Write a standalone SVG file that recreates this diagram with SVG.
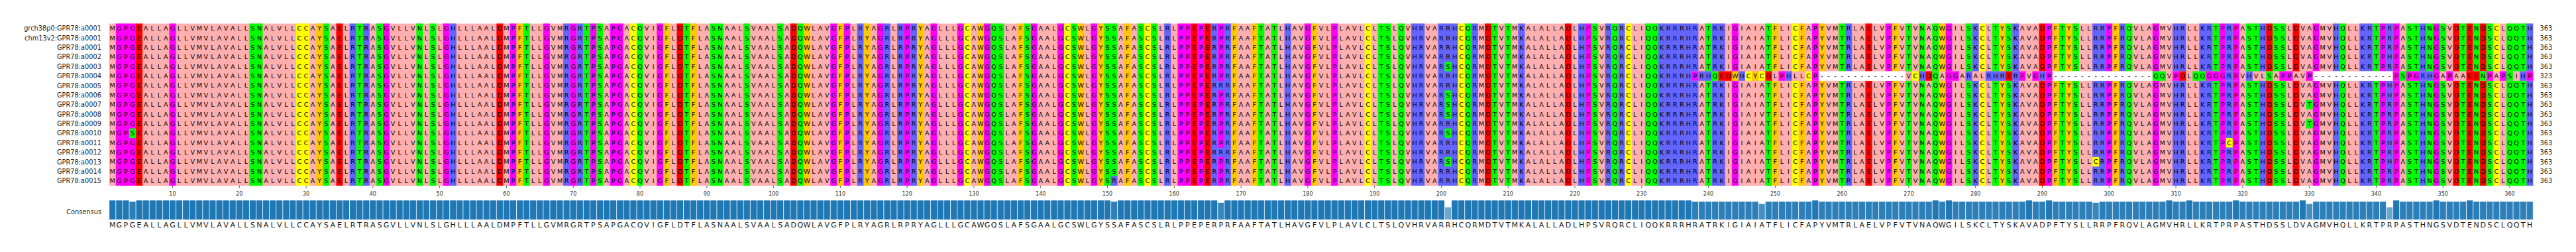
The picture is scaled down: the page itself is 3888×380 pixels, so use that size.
<svg xmlns="http://www.w3.org/2000/svg" width="3888" height="380" viewBox="0 0 3888 380">
<style>
text{font-family:"DejaVu Sans","Liberation Sans",sans-serif}
.lab{font-size:9.8px;fill:#262626;text-anchor:end}
.len{font-size:9.8px;fill:#262626}
.s{font-size:9.6px;fill:#000;text-anchor:middle}
.cs{font-size:11px;fill:#1a1a1a;text-anchor:middle}
.tk{font-size:8px;fill:#333;text-anchor:middle}
.p{fill:#ffafaf}.o{fill:#ffc800}.b{fill:#6464ff}.r{fill:#f00}.g{fill:#0f0}.m{fill:#f0f}.y{fill:#ff0}.w{fill:#fff}
.sm{stroke:#f0f}.sb{stroke:#6464ff}.sg{stroke:#0f0}.sr{stroke:#f00}.so{stroke:#ffc800}.sy{stroke:#ff0}
.col path{fill:none;stroke-width:10}
.bar{fill:#1f77b4}
</style>
<defs>
<pattern id="sep" patternUnits="userSpaceOnUse" x="4.5" y="0" width="10" height="380"><rect width="1" height="380" fill="#fff" fill-opacity="0.85"/></pattern>
</defs>
<rect width="3888" height="380" fill="#fff"/>
<g id="labels">
<text class="lab" x="153" y="46.3">grch38p0:GPR78:a0001</text>
<text class="lab" x="153" y="60.7">chm13v2:GPR78:a0001</text>
<text class="lab" x="153" y="75">GPR78:a0001</text>
<text class="lab" x="153" y="89.4">GPR78:a0002</text>
<text class="lab" x="153" y="103.8">GPR78:a0003</text>
<text class="lab" x="153" y="118.2">GPR78:a0004</text>
<text class="lab" x="153" y="132.5">GPR78:a0005</text>
<text class="lab" x="153" y="146.9">GPR78:a0006</text>
<text class="lab" x="153" y="161.3">GPR78:a0007</text>
<text class="lab" x="153" y="175.7">GPR78:a0008</text>
<text class="lab" x="153" y="190">GPR78:a0009</text>
<text class="lab" x="153" y="204.4">GPR78:a0010</text>
<text class="lab" x="153" y="218.8">GPR78:a0011</text>
<text class="lab" x="153" y="233.2">GPR78:a0012</text>
<text class="lab" x="153" y="247.5">GPR78:a0013</text>
<text class="lab" x="153" y="261.9">GPR78:a0014</text>
<text class="lab" x="153" y="276.3">GPR78:a0015</text>
<text class="lab" x="153" y="323.3">Consensus</text>
</g>
<g id="alignment" transform="matrix(1.00786 0 0 1 159.71 0)">
<g id="backgrounds" class="col">
<rect class="p" x="5" y="35.6" width="3630" height="244.4"/>
<path class="sm" d="M20 35.6V280M30 35.6V280M40 35.6V280M100 35.6V280M420 35.6V280M510 35.6V280M610 35.6V280M660 35.6V280M700 35.6V280M730 35.6V280M760 35.6V280M770 35.6V280M830 35.6V280M1090 35.6V280M1110 35.6V280M1160 35.6V280M1200 35.6V280M1240 35.6V280M1280 35.6V280M1320 35.6V280M1390 35.6V280M1430 35.6V280M1480 35.6V280M1610 35.6V280M1620 35.6V280M1640 35.6V280M1670 35.6V280M1800 35.6V280M1840 35.6V280M2220 35.6V280M2440 35.6V280M2560 35.6V280M2670 35.6V280M2760 35.6V280M2910 35.6V280M3000 35.6V280M3070 35.6V280M3170 35.6V280M3190 35.6V280M3310 35.6V280M3410 35.6V280M3430 35.6V280M3490 35.6V280"/>
<path class="sr" d="M50 35.6V280M350 35.6V280M590 35.6V280M860 35.6V280M1030 35.6V280M1630 35.6V280M1650 35.6V280M2070 35.6V280M2190 35.6V280M2640 35.6V280M2900 35.6V280M3240 35.6V280M3280 35.6V280M3520 35.6V280M3540 35.6V280M3560 35.6V280"/>
<path class="sb" d="M370 35.6V280M390 35.6V280M520 35.6V280M690 35.6V280M710 35.6V280M1130 35.6V280M1170 35.6V280M1190 35.6V280M1210 35.6V280M1590 35.6V280M1660 35.6V280M1680 35.6V280M1770 35.6V280M1960 35.6V280M1970 35.6V280M2000 35.6V280M2010 35.6V280M2020 35.6V280M2050 35.6V280M2120 35.6V280M2210 35.6V280M2250 35.6V280M2270 35.6V280M2330 35.6V280M2340 35.6V280M2350 35.6V280M2360 35.6V280M2370 35.6V280M2380 35.6V280M2410 35.6V280M2420 35.6V280M2610 35.6V280M2800 35.6V280M2860 35.6V280M2980 35.6V280M2990 35.6V280M3020 35.6V280M3100 35.6V280M3110 35.6V280M3140 35.6V280M3150 35.6V280M3180 35.6V280M3230 35.6V280M3340 35.6V280M3380 35.6V280M3390 35.6V280M3420 35.6V280M3470 35.6V280M3630 35.6V280"/>
<path class="sg" d="M220 35.6V280M230 35.6V280M330 35.6V280M380 35.6V280M410 35.6V280M470 35.6V280M490 35.6V280M630 35.6V280M720 35.6V280M740 35.6V280M800 35.6V280M870 35.6V280M910 35.6V280M920 35.6V280M960 35.6V280M1010 35.6V280M1040 35.6V280M1330 35.6V280M1340 35.6V280M1380 35.6V280M1450 35.6V280M1500 35.6V280M1510 35.6V280M1550 35.6V280M1570 35.6V280M1730 35.6V280M1750 35.6V280M1910 35.6V280M1920 35.6V280M1940 35.6V280M2040 35.6V280M2080 35.6V280M2100 35.6V280M2230 35.6V280M2260 35.6V280M2310 35.6V280M2320 35.6V280M2400 35.6V280M2490 35.6V280M2600 35.6V280M2700 35.6V280M2720 35.6V280M2740 35.6V280M2790 35.6V280M2830 35.6V280M2850 35.6V280M2930 35.6V280M2950 35.6V280M3030 35.6V280M3160 35.6V280M3210 35.6V280M3220 35.6V280M3250 35.6V280M3260 35.6V280M3350 35.6V280M3400 35.6V280M3450 35.6V280M3460 35.6V280M3480 35.6V280M3500 35.6V280M3530 35.6V280M3550 35.6V280M3570 35.6V280M3600 35.6V280M3610 35.6V280M3620 35.6V280"/>
<path class="so" d="M320 35.6V280M620 35.6V280M840 35.6V280M880 35.6V280M1050 35.6V280M1100 35.6V280M1140 35.6V280M1220 35.6V280M1310 35.6V280M1370 35.6V280M1460 35.6V280M1490 35.6V280M1530 35.6V280M1690 35.6V280M1720 35.6V280M1810 35.6V280M2500 35.6V280M2540 35.6V280M2570 35.6V280M2680 35.6V280M2750 35.6V280M2840 35.6V280M2920 35.6V280M2940 35.6V280M3010 35.6V280"/>
<path class="sy" d="M290 35.6V280M300 35.6V280M790 35.6V280M1290 35.6V280M1440 35.6V280M1560 35.6V280M1890 35.6V280M2030 35.6V280M2280 35.6V280M2530 35.6V280M2810 35.6V280M3580 35.6V280"/>
<rect class="g" x="35" y="193.7" width="10" height="14.4"/>
<rect class="g" x="2005" y="93.1" width="10" height="14.4"/>
<rect class="g" x="2005" y="136.2" width="10" height="43.2"/>
<rect class="g" x="2005" y="193.7" width="10" height="14.4"/>
<rect class="g" x="2005" y="236.85" width="10" height="14.4"/>
<rect class="g" x="3295" y="150.6" width="10" height="14.4"/>
<rect class="g" x="3295" y="179.35" width="10" height="14.4"/>
<rect class="b" x="1505" y="265.6" width="10" height="14.4"/>
<rect class="b" x="1665" y="121.85" width="10" height="14.4"/>
<rect class="b" x="1665" y="222.47" width="10" height="14.4"/>
<rect class="y" x="2975" y="236.85" width="10" height="14.4"/>
<rect class="y" x="3175" y="208.1" width="10" height="14.4"/>
<rect class="p" x="2375" y="107.45" width="1260" height="14.42"/>
<rect class="w" x="2565" y="107.45" width="130" height="14.42"/>
<rect class="w" x="2915" y="107.45" width="150" height="14.42"/>
<rect class="w" x="3305" y="107.45" width="120" height="14.42"/>
<path class="sm" d="M2380 107.45v14.42M2510 107.45v14.42M2560 107.45v14.42M2760 107.45v14.42M2770 107.45v14.42M2870 107.45v14.42M2890 107.45v14.42M2910 107.45v14.42M3100 107.45v14.42M3150 107.45v14.42M3160 107.45v14.42M3170 107.45v14.42M3190 107.45v14.42M3260 107.45v14.42M3270 107.45v14.42M3300 107.45v14.42M3430 107.45v14.42M3450 107.45v14.42M3460 107.45v14.42M3490 107.45v14.42M3510 107.45v14.42M3570 107.45v14.42M3590 107.45v14.42M3630 107.45v14.42"/>
<path class="sb" d="M2390 107.45v14.42M2400 107.45v14.42M2450 107.45v14.42M2520 107.45v14.42M2720 107.45v14.42M2790 107.45v14.42M2820 107.45v14.42M2830 107.45v14.42M2840 107.45v14.42M2860 107.45v14.42M2900 107.45v14.42M3180 107.45v14.42M3210 107.45v14.42M3470 107.45v14.42M3480 107.45v14.42M3620 107.45v14.42"/>
<path class="sg" d="M2410 107.45v14.42M2740 107.45v14.42M3070 107.45v14.42M3080 107.45v14.42M3130 107.45v14.42M3140 107.45v14.42M3240 107.45v14.42M3440 107.45v14.42M3560 107.45v14.42M3600 107.45v14.42"/>
<path class="sr" d="M2420 107.45v14.42M2430 107.45v14.42M2490 107.45v14.42M2730 107.45v14.42M2850 107.45v14.42M3110 107.45v14.42M3540 107.45v14.42M3550 107.45v14.42"/>
<path class="so" d="M2440 107.45v14.42M2470 107.45v14.42"/>
<path class="sy" d="M2460 107.45v14.42M2480 107.45v14.42M2550 107.45v14.42M2710 107.45v14.42"/>
</g>
<g id="residues">
<text class="s" y="46.3" x="10 20 30 40 50 60 70 80 90 100 110 120 130 140 150 160 170 180 190 200 210 220 230 240 250 260 270 280 290 300 310 320 330 340 350 360 370 380 390 400 410 420 430 440 450 460 470 480 490 500 510 520 530 540 550 560 570 580 590 600 610 620 630 640 650 660 670 680 690 700 710 720 730 740 750 760 770 780 790 800 810 820 830 840 850 860 870 880 890 900 910 920 930 940 950 960 970 980 990 1000 1010 1020 1030 1040 1050 1060 1070 1080 1090 1100 1110 1120 1130 1140 1150 1160 1170 1180 1190 1200 1210 1220 1230 1240 1250 1260 1270 1280 1290 1300 1310 1320 1330 1340 1350 1360 1370 1380 1390 1400 1410 1420 1430 1440 1450 1460 1470 1480 1490 1500 1510 1520 1530 1540 1550 1560 1570 1580 1590 1600 1610 1620 1630 1640 1650 1660 1670 1680 1690 1700 1710 1720 1730 1740 1750 1760 1770 1780 1790 1800 1810 1820 1830 1840 1850 1860 1870 1880 1890 1900 1910 1920 1930 1940 1950 1960 1970 1980 1990 2000 2010 2020 2030 2040 2050 2060 2070 2080 2090 2100 2110 2120 2130 2140 2150 2160 2170 2180 2190 2200 2210 2220 2230 2240 2250 2260 2270 2280 2290 2300 2310 2320 2330 2340 2350 2360 2370 2380 2390 2400 2410 2420 2430 2440 2450 2460 2470 2480 2490 2500 2510 2520 2530 2540 2550 2560 2570 2580 2590 2600 2610 2620 2630 2640 2650 2660 2670 2680 2690 2700 2710 2720 2730 2740 2750 2760 2770 2780 2790 2800 2810 2820 2830 2840 2850 2860 2870 2880 2890 2900 2910 2920 2930 2940 2950 2960 2970 2980 2990 3000 3010 3020 3030 3040 3050 3060 3070 3080 3090 3100 3110 3120 3130 3140 3150 3160 3170 3180 3190 3200 3210 3220 3230 3240 3250 3260 3270 3280 3290 3300 3310 3320 3330 3340 3350 3360 3370 3380 3390 3400 3410 3420 3430 3440 3450 3460 3470 3480 3490 3500 3510 3520 3530 3540 3550 3560 3570 3580 3590 3600 3610 3620 3630">MGPGEALLAGLLVMVLAVALLSNALVLLCCAYSAELRTRASGVLLVNLSLGHLLLAALDMPFTLLGVMRGRTPSAPGACQVIGFLDTFLASNAALSVAALSADQWLAVGFPLRYAGRLRPRYAGLLLGCAWGQSLAFSGAALGCSWLGYSSAFASCSLRLPPEPERPRFAAFTATLHAVGFVLPLAVLCLTSLQVHRVARRHCQRMDTVTMKALALLADLHPSVRQRCLIQQKRRRHRATRKIGIAIATFLICFAPYVMTRLAELVPFVTVNAQWGILSKCLTYSKAVADPFTYSLLRRPFRQVLAGMVHRLLKRTPRPASTHDSSLDVAGMVHQLLKRTPRPASTHNGSVDTENDSCLQQTH</text>
<text class="s" y="60.7" x="10 20 30 40 50 60 70 80 90 100 110 120 130 140 150 160 170 180 190 200 210 220 230 240 250 260 270 280 290 300 310 320 330 340 350 360 370 380 390 400 410 420 430 440 450 460 470 480 490 500 510 520 530 540 550 560 570 580 590 600 610 620 630 640 650 660 670 680 690 700 710 720 730 740 750 760 770 780 790 800 810 820 830 840 850 860 870 880 890 900 910 920 930 940 950 960 970 980 990 1000 1010 1020 1030 1040 1050 1060 1070 1080 1090 1100 1110 1120 1130 1140 1150 1160 1170 1180 1190 1200 1210 1220 1230 1240 1250 1260 1270 1280 1290 1300 1310 1320 1330 1340 1350 1360 1370 1380 1390 1400 1410 1420 1430 1440 1450 1460 1470 1480 1490 1500 1510 1520 1530 1540 1550 1560 1570 1580 1590 1600 1610 1620 1630 1640 1650 1660 1670 1680 1690 1700 1710 1720 1730 1740 1750 1760 1770 1780 1790 1800 1810 1820 1830 1840 1850 1860 1870 1880 1890 1900 1910 1920 1930 1940 1950 1960 1970 1980 1990 2000 2010 2020 2030 2040 2050 2060 2070 2080 2090 2100 2110 2120 2130 2140 2150 2160 2170 2180 2190 2200 2210 2220 2230 2240 2250 2260 2270 2280 2290 2300 2310 2320 2330 2340 2350 2360 2370 2380 2390 2400 2410 2420 2430 2440 2450 2460 2470 2480 2490 2500 2510 2520 2530 2540 2550 2560 2570 2580 2590 2600 2610 2620 2630 2640 2650 2660 2670 2680 2690 2700 2710 2720 2730 2740 2750 2760 2770 2780 2790 2800 2810 2820 2830 2840 2850 2860 2870 2880 2890 2900 2910 2920 2930 2940 2950 2960 2970 2980 2990 3000 3010 3020 3030 3040 3050 3060 3070 3080 3090 3100 3110 3120 3130 3140 3150 3160 3170 3180 3190 3200 3210 3220 3230 3240 3250 3260 3270 3280 3290 3300 3310 3320 3330 3340 3350 3360 3370 3380 3390 3400 3410 3420 3430 3440 3450 3460 3470 3480 3490 3500 3510 3520 3530 3540 3550 3560 3570 3580 3590 3600 3610 3620 3630">MGPGEALLAGLLVMVLAVALLSNALVLLCCAYSAELRTRASGVLLVNLSLGHLLLAALDMPFTLLGVMRGRTPSAPGACQVIGFLDTFLASNAALSVAALSADQWLAVGFPLRYAGRLRPRYAGLLLGCAWGQSLAFSGAALGCSWLGYSSAFASCSLRLPPEPERPRFAAFTATLHAVGFVLPLAVLCLTSLQVHRVARRHCQRMDTVTMKALALLADLHPSVRQRCLIQQKRRRHRATRKIGIAIATFLICFAPYVMTRLAELVPFVTVNAQWGILSKCLTYSKAVADPFTYSLLRRPFRQVLAGMVHRLLKRTPRPASTHDSSLDVAGMVHQLLKRTPRPASTHNGSVDTENDSCLQQTH</text>
<text class="s" y="75" x="10 20 30 40 50 60 70 80 90 100 110 120 130 140 150 160 170 180 190 200 210 220 230 240 250 260 270 280 290 300 310 320 330 340 350 360 370 380 390 400 410 420 430 440 450 460 470 480 490 500 510 520 530 540 550 560 570 580 590 600 610 620 630 640 650 660 670 680 690 700 710 720 730 740 750 760 770 780 790 800 810 820 830 840 850 860 870 880 890 900 910 920 930 940 950 960 970 980 990 1000 1010 1020 1030 1040 1050 1060 1070 1080 1090 1100 1110 1120 1130 1140 1150 1160 1170 1180 1190 1200 1210 1220 1230 1240 1250 1260 1270 1280 1290 1300 1310 1320 1330 1340 1350 1360 1370 1380 1390 1400 1410 1420 1430 1440 1450 1460 1470 1480 1490 1500 1510 1520 1530 1540 1550 1560 1570 1580 1590 1600 1610 1620 1630 1640 1650 1660 1670 1680 1690 1700 1710 1720 1730 1740 1750 1760 1770 1780 1790 1800 1810 1820 1830 1840 1850 1860 1870 1880 1890 1900 1910 1920 1930 1940 1950 1960 1970 1980 1990 2000 2010 2020 2030 2040 2050 2060 2070 2080 2090 2100 2110 2120 2130 2140 2150 2160 2170 2180 2190 2200 2210 2220 2230 2240 2250 2260 2270 2280 2290 2300 2310 2320 2330 2340 2350 2360 2370 2380 2390 2400 2410 2420 2430 2440 2450 2460 2470 2480 2490 2500 2510 2520 2530 2540 2550 2560 2570 2580 2590 2600 2610 2620 2630 2640 2650 2660 2670 2680 2690 2700 2710 2720 2730 2740 2750 2760 2770 2780 2790 2800 2810 2820 2830 2840 2850 2860 2870 2880 2890 2900 2910 2920 2930 2940 2950 2960 2970 2980 2990 3000 3010 3020 3030 3040 3050 3060 3070 3080 3090 3100 3110 3120 3130 3140 3150 3160 3170 3180 3190 3200 3210 3220 3230 3240 3250 3260 3270 3280 3290 3300 3310 3320 3330 3340 3350 3360 3370 3380 3390 3400 3410 3420 3430 3440 3450 3460 3470 3480 3490 3500 3510 3520 3530 3540 3550 3560 3570 3580 3590 3600 3610 3620 3630">MGPGEALLAGLLVMVLAVALLSNALVLLCCAYSAELRTRASGVLLVNLSLGHLLLAALDMPFTLLGVMRGRTPSAPGACQVIGFLDTFLASNAALSVAALSADQWLAVGFPLRYAGRLRPRYAGLLLGCAWGQSLAFSGAALGCSWLGYSSAFASCSLRLPPEPERPRFAAFTATLHAVGFVLPLAVLCLTSLQVHRVARRHCQRMDTVTMKALALLADLHPSVRQRCLIQQKRRRHRATRKIGIAIATFLICFAPYVMTRLAELVPFVTVNAQWGILSKCLTYSKAVADPFTYSLLRRPFRQVLAGMVHRLLKRTPRPASTHDSSLDVAGMVHQLLKRTPRPASTHNGSVDTENDSCLQQTH</text>
<text class="s" y="89.4" x="10 20 30 40 50 60 70 80 90 100 110 120 130 140 150 160 170 180 190 200 210 220 230 240 250 260 270 280 290 300 310 320 330 340 350 360 370 380 390 400 410 420 430 440 450 460 470 480 490 500 510 520 530 540 550 560 570 580 590 600 610 620 630 640 650 660 670 680 690 700 710 720 730 740 750 760 770 780 790 800 810 820 830 840 850 860 870 880 890 900 910 920 930 940 950 960 970 980 990 1000 1010 1020 1030 1040 1050 1060 1070 1080 1090 1100 1110 1120 1130 1140 1150 1160 1170 1180 1190 1200 1210 1220 1230 1240 1250 1260 1270 1280 1290 1300 1310 1320 1330 1340 1350 1360 1370 1380 1390 1400 1410 1420 1430 1440 1450 1460 1470 1480 1490 1500 1510 1520 1530 1540 1550 1560 1570 1580 1590 1600 1610 1620 1630 1640 1650 1660 1670 1680 1690 1700 1710 1720 1730 1740 1750 1760 1770 1780 1790 1800 1810 1820 1830 1840 1850 1860 1870 1880 1890 1900 1910 1920 1930 1940 1950 1960 1970 1980 1990 2000 2010 2020 2030 2040 2050 2060 2070 2080 2090 2100 2110 2120 2130 2140 2150 2160 2170 2180 2190 2200 2210 2220 2230 2240 2250 2260 2270 2280 2290 2300 2310 2320 2330 2340 2350 2360 2370 2380 2390 2400 2410 2420 2430 2440 2450 2460 2470 2480 2490 2500 2510 2520 2530 2540 2550 2560 2570 2580 2590 2600 2610 2620 2630 2640 2650 2660 2670 2680 2690 2700 2710 2720 2730 2740 2750 2760 2770 2780 2790 2800 2810 2820 2830 2840 2850 2860 2870 2880 2890 2900 2910 2920 2930 2940 2950 2960 2970 2980 2990 3000 3010 3020 3030 3040 3050 3060 3070 3080 3090 3100 3110 3120 3130 3140 3150 3160 3170 3180 3190 3200 3210 3220 3230 3240 3250 3260 3270 3280 3290 3300 3310 3320 3330 3340 3350 3360 3370 3380 3390 3400 3410 3420 3430 3440 3450 3460 3470 3480 3490 3500 3510 3520 3530 3540 3550 3560 3570 3580 3590 3600 3610 3620 3630">MGPGEALLAGLLVMVLAVALLSNALVLLCCAYSAELRTRASGVLLVNLSLGHLLLAALDMPFTLLGVMRGRTPSAPGACQVIGFLDTFLASNAALSVAALSADQWLAVGFPLRYAGRLRPRYAGLLLGCAWGQSLAFSGAALGCSWLGYSSAFASCSLRLPPEPERPRFAAFTATLHAVGFVLPLAVLCLTSLQVHRVARRHCQRMDTVTMKALALLADLHPSVRQRCLIQQKRRRHRATRKIGIAIATFLICFAPYVMTRLAELVPFVTVNAQWGILSKCLTYSKAVADPFTYSLLRRPFRQVLAGMVHRLLKRTPRPASTHDSSLDVAGMVHQLLKRTPHPASTHNGSVDTENDSCLQQTH</text>
<text class="s" y="103.8" x="10 20 30 40 50 60 70 80 90 100 110 120 130 140 150 160 170 180 190 200 210 220 230 240 250 260 270 280 290 300 310 320 330 340 350 360 370 380 390 400 410 420 430 440 450 460 470 480 490 500 510 520 530 540 550 560 570 580 590 600 610 620 630 640 650 660 670 680 690 700 710 720 730 740 750 760 770 780 790 800 810 820 830 840 850 860 870 880 890 900 910 920 930 940 950 960 970 980 990 1000 1010 1020 1030 1040 1050 1060 1070 1080 1090 1100 1110 1120 1130 1140 1150 1160 1170 1180 1190 1200 1210 1220 1230 1240 1250 1260 1270 1280 1290 1300 1310 1320 1330 1340 1350 1360 1370 1380 1390 1400 1410 1420 1430 1440 1450 1460 1470 1480 1490 1500 1510 1520 1530 1540 1550 1560 1570 1580 1590 1600 1610 1620 1630 1640 1650 1660 1670 1680 1690 1700 1710 1720 1730 1740 1750 1760 1770 1780 1790 1800 1810 1820 1830 1840 1850 1860 1870 1880 1890 1900 1910 1920 1930 1940 1950 1960 1970 1980 1990 2000 2010 2020 2030 2040 2050 2060 2070 2080 2090 2100 2110 2120 2130 2140 2150 2160 2170 2180 2190 2200 2210 2220 2230 2240 2250 2260 2270 2280 2290 2300 2310 2320 2330 2340 2350 2360 2370 2380 2390 2400 2410 2420 2430 2440 2450 2460 2470 2480 2490 2500 2510 2520 2530 2540 2550 2560 2570 2580 2590 2600 2610 2620 2630 2640 2650 2660 2670 2680 2690 2700 2710 2720 2730 2740 2750 2760 2770 2780 2790 2800 2810 2820 2830 2840 2850 2860 2870 2880 2890 2900 2910 2920 2930 2940 2950 2960 2970 2980 2990 3000 3010 3020 3030 3040 3050 3060 3070 3080 3090 3100 3110 3120 3130 3140 3150 3160 3170 3180 3190 3200 3210 3220 3230 3240 3250 3260 3270 3280 3290 3300 3310 3320 3330 3340 3350 3360 3370 3380 3390 3400 3410 3420 3430 3440 3450 3460 3470 3480 3490 3500 3510 3520 3530 3540 3550 3560 3570 3580 3590 3600 3610 3620 3630">MGPGEALLAGLLVMVLAVALLSNALVLLCCAYSAELRTRASGVLLVNLSLGHLLLAALDMPFTLLGVMRGRTPSAPGACQVIGFLDTFLASNAALSVAALSADQWLAVGFPLRYAGRLRPRYAGLLLGCAWGQSLAFSGAALGCSWLGYSSAFASCSLRLPPEPERPRFAAFTATLHAVGFVLPLAVLCLTSLQVHRVARSHCQRMDTVTMKALALLADLHPSVRQRCLIQQKRRRHRATRKIGIAIATFLICFAPYVMTRLAELVPFVTVNAQWGILSKCLTYSKAVADPFTYSLLRRPFRQVLAGMVHRLLKRTPRPASTHDSSLDVAGMVHQLLKRTPRPASTHNGSVDTENDSCLQQTH</text>
<text class="s" y="118.2" x="10 20 30 40 50 60 70 80 90 100 110 120 130 140 150 160 170 180 190 200 210 220 230 240 250 260 270 280 290 300 310 320 330 340 350 360 370 380 390 400 410 420 430 440 450 460 470 480 490 500 510 520 530 540 550 560 570 580 590 600 610 620 630 640 650 660 670 680 690 700 710 720 730 740 750 760 770 780 790 800 810 820 830 840 850 860 870 880 890 900 910 920 930 940 950 960 970 980 990 1000 1010 1020 1030 1040 1050 1060 1070 1080 1090 1100 1110 1120 1130 1140 1150 1160 1170 1180 1190 1200 1210 1220 1230 1240 1250 1260 1270 1280 1290 1300 1310 1320 1330 1340 1350 1360 1370 1380 1390 1400 1410 1420 1430 1440 1450 1460 1470 1480 1490 1500 1510 1520 1530 1540 1550 1560 1570 1580 1590 1600 1610 1620 1630 1640 1650 1660 1670 1680 1690 1700 1710 1720 1730 1740 1750 1760 1770 1780 1790 1800 1810 1820 1830 1840 1850 1860 1870 1880 1890 1900 1910 1920 1930 1940 1950 1960 1970 1980 1990 2000 2010 2020 2030 2040 2050 2060 2070 2080 2090 2100 2110 2120 2130 2140 2150 2160 2170 2180 2190 2200 2210 2220 2230 2240 2250 2260 2270 2280 2290 2300 2310 2320 2330 2340 2350 2360 2370 2380 2390 2400 2410 2420 2430 2440 2450 2460 2470 2480 2490 2500 2510 2520 2530 2540 2550 2560 2570 2580 2590 2600 2610 2620 2630 2640 2650 2660 2670 2680 2690 2700 2710 2720 2730 2740 2750 2760 2770 2780 2790 2800 2810 2820 2830 2840 2850 2860 2870 2880 2890 2900 2910 2920 2930 2940 2950 2960 2970 2980 2990 3000 3010 3020 3030 3040 3050 3060 3070 3080 3090 3100 3110 3120 3130 3140 3150 3160 3170 3180 3190 3200 3210 3220 3230 3240 3250 3260 3270 3280 3290 3300 3310 3320 3330 3340 3350 3360 3370 3380 3390 3400 3410 3420 3430 3440 3450 3460 3470 3480 3490 3500 3510 3520 3530 3540 3550 3560 3570 3580 3590 3600 3610 3620 3630">MGPGEALLAGLLVMVLAVALLSNALVLLCCAYSAELRTRASGVLLVNLSLGHLLLAALDMPFTLLGVMRGRTPSAPGACQVIGFLDTFLASNAALSVAALSADQWLAVGFPLRYAGRLRPRYAGLLLGCAWGQSLAFSGAALGCSWLGYSSAFASCSLRLPPEPERPRFAAFTATLHAVGFVLPLAVLCLTSLQVHRVARRHCQRMDTVTMKALALLADLHPSVRQRCLIQQKRRRHPRHQEDWHCYCDLPHLLCP-------------VCHDQAGGARALRHRERPVGHP---------------QQVPDLQQGGGRPVHVLSAPPAVP------------PSPGRHGAPAAEENPAPSIHP</text>
<text class="s" y="132.5" x="10 20 30 40 50 60 70 80 90 100 110 120 130 140 150 160 170 180 190 200 210 220 230 240 250 260 270 280 290 300 310 320 330 340 350 360 370 380 390 400 410 420 430 440 450 460 470 480 490 500 510 520 530 540 550 560 570 580 590 600 610 620 630 640 650 660 670 680 690 700 710 720 730 740 750 760 770 780 790 800 810 820 830 840 850 860 870 880 890 900 910 920 930 940 950 960 970 980 990 1000 1010 1020 1030 1040 1050 1060 1070 1080 1090 1100 1110 1120 1130 1140 1150 1160 1170 1180 1190 1200 1210 1220 1230 1240 1250 1260 1270 1280 1290 1300 1310 1320 1330 1340 1350 1360 1370 1380 1390 1400 1410 1420 1430 1440 1450 1460 1470 1480 1490 1500 1510 1520 1530 1540 1550 1560 1570 1580 1590 1600 1610 1620 1630 1640 1650 1660 1670 1680 1690 1700 1710 1720 1730 1740 1750 1760 1770 1780 1790 1800 1810 1820 1830 1840 1850 1860 1870 1880 1890 1900 1910 1920 1930 1940 1950 1960 1970 1980 1990 2000 2010 2020 2030 2040 2050 2060 2070 2080 2090 2100 2110 2120 2130 2140 2150 2160 2170 2180 2190 2200 2210 2220 2230 2240 2250 2260 2270 2280 2290 2300 2310 2320 2330 2340 2350 2360 2370 2380 2390 2400 2410 2420 2430 2440 2450 2460 2470 2480 2490 2500 2510 2520 2530 2540 2550 2560 2570 2580 2590 2600 2610 2620 2630 2640 2650 2660 2670 2680 2690 2700 2710 2720 2730 2740 2750 2760 2770 2780 2790 2800 2810 2820 2830 2840 2850 2860 2870 2880 2890 2900 2910 2920 2930 2940 2950 2960 2970 2980 2990 3000 3010 3020 3030 3040 3050 3060 3070 3080 3090 3100 3110 3120 3130 3140 3150 3160 3170 3180 3190 3200 3210 3220 3230 3240 3250 3260 3270 3280 3290 3300 3310 3320 3330 3340 3350 3360 3370 3380 3390 3400 3410 3420 3430 3440 3450 3460 3470 3480 3490 3500 3510 3520 3530 3540 3550 3560 3570 3580 3590 3600 3610 3620 3630">MGPGEALLAGLLVMVLAVALLSNALVLLCCAYSAELRTRASGVLLVNLSLGHLLLAALDMPFTLLGVMRGRTPSAPGACQVIGFLDTFLASNAALSVAALSADQWLAVGFPLRYAGRLRPRYAGLLLGCAWGQSLAFSGAALGCSWLGYSSAFASCSLRLPPEPERRRFAAFTATLHAVGFVLPLAVLCLTSLQVHRVARRHCQRMDTVTMKALALLADLHPSVRQRCLIQQKRRRHRATRKIGIAIATFLICFAPYVMTRLAELVPFVTVNAQWGILSKCLTYSKAVADPFTYSLLRRPFRQVLAGMVHRLLKRTPRPASTHDSSLDVAGMVHQLLKRTPHPASTHNGSVDTENDSCLQQTH</text>
<text class="s" y="146.9" x="10 20 30 40 50 60 70 80 90 100 110 120 130 140 150 160 170 180 190 200 210 220 230 240 250 260 270 280 290 300 310 320 330 340 350 360 370 380 390 400 410 420 430 440 450 460 470 480 490 500 510 520 530 540 550 560 570 580 590 600 610 620 630 640 650 660 670 680 690 700 710 720 730 740 750 760 770 780 790 800 810 820 830 840 850 860 870 880 890 900 910 920 930 940 950 960 970 980 990 1000 1010 1020 1030 1040 1050 1060 1070 1080 1090 1100 1110 1120 1130 1140 1150 1160 1170 1180 1190 1200 1210 1220 1230 1240 1250 1260 1270 1280 1290 1300 1310 1320 1330 1340 1350 1360 1370 1380 1390 1400 1410 1420 1430 1440 1450 1460 1470 1480 1490 1500 1510 1520 1530 1540 1550 1560 1570 1580 1590 1600 1610 1620 1630 1640 1650 1660 1670 1680 1690 1700 1710 1720 1730 1740 1750 1760 1770 1780 1790 1800 1810 1820 1830 1840 1850 1860 1870 1880 1890 1900 1910 1920 1930 1940 1950 1960 1970 1980 1990 2000 2010 2020 2030 2040 2050 2060 2070 2080 2090 2100 2110 2120 2130 2140 2150 2160 2170 2180 2190 2200 2210 2220 2230 2240 2250 2260 2270 2280 2290 2300 2310 2320 2330 2340 2350 2360 2370 2380 2390 2400 2410 2420 2430 2440 2450 2460 2470 2480 2490 2500 2510 2520 2530 2540 2550 2560 2570 2580 2590 2600 2610 2620 2630 2640 2650 2660 2670 2680 2690 2700 2710 2720 2730 2740 2750 2760 2770 2780 2790 2800 2810 2820 2830 2840 2850 2860 2870 2880 2890 2900 2910 2920 2930 2940 2950 2960 2970 2980 2990 3000 3010 3020 3030 3040 3050 3060 3070 3080 3090 3100 3110 3120 3130 3140 3150 3160 3170 3180 3190 3200 3210 3220 3230 3240 3250 3260 3270 3280 3290 3300 3310 3320 3330 3340 3350 3360 3370 3380 3390 3400 3410 3420 3430 3440 3450 3460 3470 3480 3490 3500 3510 3520 3530 3540 3550 3560 3570 3580 3590 3600 3610 3620 3630">MGPGEALLAGLLVMVLAVALLSNALVLLCCAYSAELRTRASGVLLVNLSLGHLLLAALDMPFTLLGVMRGRTPSAPGACQVIGFLDTFLASNAALSVAALSADQWLAVGFPLRYAGRLRPRYAGLLLGCAWGQSLAFSGAALGCSWLGYSSAFASCSLRLPPEPERPRFAAFTATLHAVGFVLPLAVLCLTSLQVHRVARSHCQRMDTVTMKALALLADLHPSVRQRCLIQQKRRRHRATRKIGIAIATFLICFAPYVMTRLAELVPFVTVNAQWGILSKCLTYSKAVADPFTYSLLRRPFRQVLAGMVHRLLKRTPRPASTHDSSLDVAGMVHQLLKRTPHPASTHNGSVDTENDSCLQQTH</text>
<text class="s" y="161.3" x="10 20 30 40 50 60 70 80 90 100 110 120 130 140 150 160 170 180 190 200 210 220 230 240 250 260 270 280 290 300 310 320 330 340 350 360 370 380 390 400 410 420 430 440 450 460 470 480 490 500 510 520 530 540 550 560 570 580 590 600 610 620 630 640 650 660 670 680 690 700 710 720 730 740 750 760 770 780 790 800 810 820 830 840 850 860 870 880 890 900 910 920 930 940 950 960 970 980 990 1000 1010 1020 1030 1040 1050 1060 1070 1080 1090 1100 1110 1120 1130 1140 1150 1160 1170 1180 1190 1200 1210 1220 1230 1240 1250 1260 1270 1280 1290 1300 1310 1320 1330 1340 1350 1360 1370 1380 1390 1400 1410 1420 1430 1440 1450 1460 1470 1480 1490 1500 1510 1520 1530 1540 1550 1560 1570 1580 1590 1600 1610 1620 1630 1640 1650 1660 1670 1680 1690 1700 1710 1720 1730 1740 1750 1760 1770 1780 1790 1800 1810 1820 1830 1840 1850 1860 1870 1880 1890 1900 1910 1920 1930 1940 1950 1960 1970 1980 1990 2000 2010 2020 2030 2040 2050 2060 2070 2080 2090 2100 2110 2120 2130 2140 2150 2160 2170 2180 2190 2200 2210 2220 2230 2240 2250 2260 2270 2280 2290 2300 2310 2320 2330 2340 2350 2360 2370 2380 2390 2400 2410 2420 2430 2440 2450 2460 2470 2480 2490 2500 2510 2520 2530 2540 2550 2560 2570 2580 2590 2600 2610 2620 2630 2640 2650 2660 2670 2680 2690 2700 2710 2720 2730 2740 2750 2760 2770 2780 2790 2800 2810 2820 2830 2840 2850 2860 2870 2880 2890 2900 2910 2920 2930 2940 2950 2960 2970 2980 2990 3000 3010 3020 3030 3040 3050 3060 3070 3080 3090 3100 3110 3120 3130 3140 3150 3160 3170 3180 3190 3200 3210 3220 3230 3240 3250 3260 3270 3280 3290 3300 3310 3320 3330 3340 3350 3360 3370 3380 3390 3400 3410 3420 3430 3440 3450 3460 3470 3480 3490 3500 3510 3520 3530 3540 3550 3560 3570 3580 3590 3600 3610 3620 3630">MGPGEALLAGLLVMVLAVALLSNALVLLCCAYSAELRTRASGVLLVNLSLGHLLLAALDMPFTLLGVMRGRTPSAPGACQVIGFLDTFLASNAALSVAALSADQWLAVGFPLRYAGRLRPRYAGLLLGCAWGQSLAFSGAALGCSWLGYSSAFASCSLRLPPEPERPRFAAFTATLHAVGFVLPLAVLCLTSLQVHRVARSHCQRMDTVTMKALALLADLHPSVRQRCLIQQKRRRHRATRKIGIAIATFLICFAPYVMTRLAELVPFVTVNAQWGILSKCLTYSKAVADPFTYSLLRRPFRQVLAGMVHRLLKRTPRPASTHDSSLDVTGMVHQLLKRTPRPASTHNGSVDTENDSCLQQTH</text>
<text class="s" y="175.7" x="10 20 30 40 50 60 70 80 90 100 110 120 130 140 150 160 170 180 190 200 210 220 230 240 250 260 270 280 290 300 310 320 330 340 350 360 370 380 390 400 410 420 430 440 450 460 470 480 490 500 510 520 530 540 550 560 570 580 590 600 610 620 630 640 650 660 670 680 690 700 710 720 730 740 750 760 770 780 790 800 810 820 830 840 850 860 870 880 890 900 910 920 930 940 950 960 970 980 990 1000 1010 1020 1030 1040 1050 1060 1070 1080 1090 1100 1110 1120 1130 1140 1150 1160 1170 1180 1190 1200 1210 1220 1230 1240 1250 1260 1270 1280 1290 1300 1310 1320 1330 1340 1350 1360 1370 1380 1390 1400 1410 1420 1430 1440 1450 1460 1470 1480 1490 1500 1510 1520 1530 1540 1550 1560 1570 1580 1590 1600 1610 1620 1630 1640 1650 1660 1670 1680 1690 1700 1710 1720 1730 1740 1750 1760 1770 1780 1790 1800 1810 1820 1830 1840 1850 1860 1870 1880 1890 1900 1910 1920 1930 1940 1950 1960 1970 1980 1990 2000 2010 2020 2030 2040 2050 2060 2070 2080 2090 2100 2110 2120 2130 2140 2150 2160 2170 2180 2190 2200 2210 2220 2230 2240 2250 2260 2270 2280 2290 2300 2310 2320 2330 2340 2350 2360 2370 2380 2390 2400 2410 2420 2430 2440 2450 2460 2470 2480 2490 2500 2510 2520 2530 2540 2550 2560 2570 2580 2590 2600 2610 2620 2630 2640 2650 2660 2670 2680 2690 2700 2710 2720 2730 2740 2750 2760 2770 2780 2790 2800 2810 2820 2830 2840 2850 2860 2870 2880 2890 2900 2910 2920 2930 2940 2950 2960 2970 2980 2990 3000 3010 3020 3030 3040 3050 3060 3070 3080 3090 3100 3110 3120 3130 3140 3150 3160 3170 3180 3190 3200 3210 3220 3230 3240 3250 3260 3270 3280 3290 3300 3310 3320 3330 3340 3350 3360 3370 3380 3390 3400 3410 3420 3430 3440 3450 3460 3470 3480 3490 3500 3510 3520 3530 3540 3550 3560 3570 3580 3590 3600 3610 3620 3630">MGPGEALLAGLLVMVLAVALLSNALVLLCCAYSAELRTRASGVLLVNLSLGHLLLAALDMPFTLLGVMRGRTPSAPGACQVIGFLDTFLASNAALSVAALSADQWLAVGFPLRYAGRLRPRYAGLLLGCAWGQSLAFSGAALGCSWLGYSSAFASCSLRLPPEPERPRFAAFTATLHAVGFVLPLAVLCLTSLQVHRVARSHCQRMDTVTMKALALLADLHPSVRQRCLIQQKRRRHRATRKIGIAIVTFLICFAPYVMTRLAELVPFVTVNAQWGILSKCLTYSKAVADPFTYSLLRRPFRQVLAGMVHRLLKRTPRPASTHDSSLDVAGMVHQLLKRTPRPASTHNGSVDTENDSCLQQTH</text>
<text class="s" y="190" x="10 20 30 40 50 60 70 80 90 100 110 120 130 140 150 160 170 180 190 200 210 220 230 240 250 260 270 280 290 300 310 320 330 340 350 360 370 380 390 400 410 420 430 440 450 460 470 480 490 500 510 520 530 540 550 560 570 580 590 600 610 620 630 640 650 660 670 680 690 700 710 720 730 740 750 760 770 780 790 800 810 820 830 840 850 860 870 880 890 900 910 920 930 940 950 960 970 980 990 1000 1010 1020 1030 1040 1050 1060 1070 1080 1090 1100 1110 1120 1130 1140 1150 1160 1170 1180 1190 1200 1210 1220 1230 1240 1250 1260 1270 1280 1290 1300 1310 1320 1330 1340 1350 1360 1370 1380 1390 1400 1410 1420 1430 1440 1450 1460 1470 1480 1490 1500 1510 1520 1530 1540 1550 1560 1570 1580 1590 1600 1610 1620 1630 1640 1650 1660 1670 1680 1690 1700 1710 1720 1730 1740 1750 1760 1770 1780 1790 1800 1810 1820 1830 1840 1850 1860 1870 1880 1890 1900 1910 1920 1930 1940 1950 1960 1970 1980 1990 2000 2010 2020 2030 2040 2050 2060 2070 2080 2090 2100 2110 2120 2130 2140 2150 2160 2170 2180 2190 2200 2210 2220 2230 2240 2250 2260 2270 2280 2290 2300 2310 2320 2330 2340 2350 2360 2370 2380 2390 2400 2410 2420 2430 2440 2450 2460 2470 2480 2490 2500 2510 2520 2530 2540 2550 2560 2570 2580 2590 2600 2610 2620 2630 2640 2650 2660 2670 2680 2690 2700 2710 2720 2730 2740 2750 2760 2770 2780 2790 2800 2810 2820 2830 2840 2850 2860 2870 2880 2890 2900 2910 2920 2930 2940 2950 2960 2970 2980 2990 3000 3010 3020 3030 3040 3050 3060 3070 3080 3090 3100 3110 3120 3130 3140 3150 3160 3170 3180 3190 3200 3210 3220 3230 3240 3250 3260 3270 3280 3290 3300 3310 3320 3330 3340 3350 3360 3370 3380 3390 3400 3410 3420 3430 3440 3450 3460 3470 3480 3490 3500 3510 3520 3530 3540 3550 3560 3570 3580 3590 3600 3610 3620 3630">MGPGEALLAGLLVMVLAVALLSNALVLLCCAYSAELRTRASGVLLVNLSLGHLLLAALDMPFTLLGVMRGRTPSAPGACQVIGFLDTFLASNAALSVAALSADQWLAVGFPLRYAGRLRPRYAGLLLGCAWGQSLAFSGAALGCSWLGYSSAFASCSLRLPPEPERPRFAAFTATLHAVGFVLPLAVLCLTSLQVHRVARRHCQRMDTVTMKALALLADLHPSVRQRCLIQQKRRRHRATRKIGIAIATFLICFAPYVMTRLAELVPFVTVNAQWGILSKCLTYSKAVADPFTYSLLRRPFRQVLAGMVHRLLKRTPRPASTHDSSLDVTGMVHQLLKRTPRPASTHNGSVDTENDSCLQQTH</text>
<text class="s" y="204.4" x="10 20 30 40 50 60 70 80 90 100 110 120 130 140 150 160 170 180 190 200 210 220 230 240 250 260 270 280 290 300 310 320 330 340 350 360 370 380 390 400 410 420 430 440 450 460 470 480 490 500 510 520 530 540 550 560 570 580 590 600 610 620 630 640 650 660 670 680 690 700 710 720 730 740 750 760 770 780 790 800 810 820 830 840 850 860 870 880 890 900 910 920 930 940 950 960 970 980 990 1000 1010 1020 1030 1040 1050 1060 1070 1080 1090 1100 1110 1120 1130 1140 1150 1160 1170 1180 1190 1200 1210 1220 1230 1240 1250 1260 1270 1280 1290 1300 1310 1320 1330 1340 1350 1360 1370 1380 1390 1400 1410 1420 1430 1440 1450 1460 1470 1480 1490 1500 1510 1520 1530 1540 1550 1560 1570 1580 1590 1600 1610 1620 1630 1640 1650 1660 1670 1680 1690 1700 1710 1720 1730 1740 1750 1760 1770 1780 1790 1800 1810 1820 1830 1840 1850 1860 1870 1880 1890 1900 1910 1920 1930 1940 1950 1960 1970 1980 1990 2000 2010 2020 2030 2040 2050 2060 2070 2080 2090 2100 2110 2120 2130 2140 2150 2160 2170 2180 2190 2200 2210 2220 2230 2240 2250 2260 2270 2280 2290 2300 2310 2320 2330 2340 2350 2360 2370 2380 2390 2400 2410 2420 2430 2440 2450 2460 2470 2480 2490 2500 2510 2520 2530 2540 2550 2560 2570 2580 2590 2600 2610 2620 2630 2640 2650 2660 2670 2680 2690 2700 2710 2720 2730 2740 2750 2760 2770 2780 2790 2800 2810 2820 2830 2840 2850 2860 2870 2880 2890 2900 2910 2920 2930 2940 2950 2960 2970 2980 2990 3000 3010 3020 3030 3040 3050 3060 3070 3080 3090 3100 3110 3120 3130 3140 3150 3160 3170 3180 3190 3200 3210 3220 3230 3240 3250 3260 3270 3280 3290 3300 3310 3320 3330 3340 3350 3360 3370 3380 3390 3400 3410 3420 3430 3440 3450 3460 3470 3480 3490 3500 3510 3520 3530 3540 3550 3560 3570 3580 3590 3600 3610 3620 3630">MGPSEALLAGLLVMVLAVALLSNALVLLCCAYSAELRTRASGVLLVNLSLGHLLLAALDMPFTLLGVMRGRTPSAPGACQVIGFLDTFLASNAALSVAALSADQWLAVGFPLRYAGRLRPRYAGLLLGCAWGQSLAFSGAALGCSWLGYSSAFASCSLRLPPEPERPRFAAFTATLHAVGFVLPLAVLCLTSLQVHRVARSHCQRMDTVTMKALALLADLHPSVRQRCLIQQKRRRHRATRKIGIAIATFLICFAPYVMTRLAELVPFVTVNAQWGILSKCLTYSKAVADPFTYSLLRRPFRQVLAGMVHRLLKRTPRPASTHDSSLDVAGMVHQLLKRTPRPASTHNGSVDTENDSCLQQTH</text>
<text class="s" y="218.8" x="10 20 30 40 50 60 70 80 90 100 110 120 130 140 150 160 170 180 190 200 210 220 230 240 250 260 270 280 290 300 310 320 330 340 350 360 370 380 390 400 410 420 430 440 450 460 470 480 490 500 510 520 530 540 550 560 570 580 590 600 610 620 630 640 650 660 670 680 690 700 710 720 730 740 750 760 770 780 790 800 810 820 830 840 850 860 870 880 890 900 910 920 930 940 950 960 970 980 990 1000 1010 1020 1030 1040 1050 1060 1070 1080 1090 1100 1110 1120 1130 1140 1150 1160 1170 1180 1190 1200 1210 1220 1230 1240 1250 1260 1270 1280 1290 1300 1310 1320 1330 1340 1350 1360 1370 1380 1390 1400 1410 1420 1430 1440 1450 1460 1470 1480 1490 1500 1510 1520 1530 1540 1550 1560 1570 1580 1590 1600 1610 1620 1630 1640 1650 1660 1670 1680 1690 1700 1710 1720 1730 1740 1750 1760 1770 1780 1790 1800 1810 1820 1830 1840 1850 1860 1870 1880 1890 1900 1910 1920 1930 1940 1950 1960 1970 1980 1990 2000 2010 2020 2030 2040 2050 2060 2070 2080 2090 2100 2110 2120 2130 2140 2150 2160 2170 2180 2190 2200 2210 2220 2230 2240 2250 2260 2270 2280 2290 2300 2310 2320 2330 2340 2350 2360 2370 2380 2390 2400 2410 2420 2430 2440 2450 2460 2470 2480 2490 2500 2510 2520 2530 2540 2550 2560 2570 2580 2590 2600 2610 2620 2630 2640 2650 2660 2670 2680 2690 2700 2710 2720 2730 2740 2750 2760 2770 2780 2790 2800 2810 2820 2830 2840 2850 2860 2870 2880 2890 2900 2910 2920 2930 2940 2950 2960 2970 2980 2990 3000 3010 3020 3030 3040 3050 3060 3070 3080 3090 3100 3110 3120 3130 3140 3150 3160 3170 3180 3190 3200 3210 3220 3230 3240 3250 3260 3270 3280 3290 3300 3310 3320 3330 3340 3350 3360 3370 3380 3390 3400 3410 3420 3430 3440 3450 3460 3470 3480 3490 3500 3510 3520 3530 3540 3550 3560 3570 3580 3590 3600 3610 3620 3630">MGPGEALLAGLLVMVLAVALLSNALVLLCCAYSAELRTRASGVLLVNLSLGHLLLAALDMPFTLLGVMRGRTPSAPGACQVIGFLDTFLASNAALSVAALSADQWLAVGFPLRYAGRLRPRYAGLLLGCAWGQSLAFSGAALGCSWLGYSSAFASCSLRLPPEPERPRFAAFTATLHAVGFVLPLAVLCLTSLQVHRVARRHCQRMDTVTMKALALLADLHPSVRQRCLIQQKRRRHRATRKIGIAIATFLICFAPYVMTRLAELVPFVTVNAQWGILSKCLTYSKAVADPFTYSLLRRPFRQVLAGMVHRLLKRTPCPASTHDSSLDVAGMVHQLLKRTPHPASTHNGSVDTENDSCLQQTH</text>
<text class="s" y="233.2" x="10 20 30 40 50 60 70 80 90 100 110 120 130 140 150 160 170 180 190 200 210 220 230 240 250 260 270 280 290 300 310 320 330 340 350 360 370 380 390 400 410 420 430 440 450 460 470 480 490 500 510 520 530 540 550 560 570 580 590 600 610 620 630 640 650 660 670 680 690 700 710 720 730 740 750 760 770 780 790 800 810 820 830 840 850 860 870 880 890 900 910 920 930 940 950 960 970 980 990 1000 1010 1020 1030 1040 1050 1060 1070 1080 1090 1100 1110 1120 1130 1140 1150 1160 1170 1180 1190 1200 1210 1220 1230 1240 1250 1260 1270 1280 1290 1300 1310 1320 1330 1340 1350 1360 1370 1380 1390 1400 1410 1420 1430 1440 1450 1460 1470 1480 1490 1500 1510 1520 1530 1540 1550 1560 1570 1580 1590 1600 1610 1620 1630 1640 1650 1660 1670 1680 1690 1700 1710 1720 1730 1740 1750 1760 1770 1780 1790 1800 1810 1820 1830 1840 1850 1860 1870 1880 1890 1900 1910 1920 1930 1940 1950 1960 1970 1980 1990 2000 2010 2020 2030 2040 2050 2060 2070 2080 2090 2100 2110 2120 2130 2140 2150 2160 2170 2180 2190 2200 2210 2220 2230 2240 2250 2260 2270 2280 2290 2300 2310 2320 2330 2340 2350 2360 2370 2380 2390 2400 2410 2420 2430 2440 2450 2460 2470 2480 2490 2500 2510 2520 2530 2540 2550 2560 2570 2580 2590 2600 2610 2620 2630 2640 2650 2660 2670 2680 2690 2700 2710 2720 2730 2740 2750 2760 2770 2780 2790 2800 2810 2820 2830 2840 2850 2860 2870 2880 2890 2900 2910 2920 2930 2940 2950 2960 2970 2980 2990 3000 3010 3020 3030 3040 3050 3060 3070 3080 3090 3100 3110 3120 3130 3140 3150 3160 3170 3180 3190 3200 3210 3220 3230 3240 3250 3260 3270 3280 3290 3300 3310 3320 3330 3340 3350 3360 3370 3380 3390 3400 3410 3420 3430 3440 3450 3460 3470 3480 3490 3500 3510 3520 3530 3540 3550 3560 3570 3580 3590 3600 3610 3620 3630">MGPGEALLAGLLVMVLAVALLSNALVLLCCAYSAELRTRASGVLLVNLSLGHLLLAALDMPFTLLGVMRGRTPSAPGACQVIGFLDTFLASNAALSVAALSADQWLAVGFPLRYAGRLRPRYAGLLLGCAWGQSLAFSGAALGCSWLGYSSAFASCSLRLPPEPERRRFAAFTATLHAVGFVLPLAVLCLTSLQVHRVARRHCQRMDTVTMKALALLADLHPSVRQRCLIQQKRRRHRATRKIGIAIATFLICFAPYVMTRLAELVPFVTVNAQWGILSKCLTYSKAVADPFTYSLLRRPFRQVLAGMVHRLLKRTPRPASTHDSSLDVAGMVHQLLKRTPRPASTHNGSVDTENDSCLQQTH</text>
<text class="s" y="247.5" x="10 20 30 40 50 60 70 80 90 100 110 120 130 140 150 160 170 180 190 200 210 220 230 240 250 260 270 280 290 300 310 320 330 340 350 360 370 380 390 400 410 420 430 440 450 460 470 480 490 500 510 520 530 540 550 560 570 580 590 600 610 620 630 640 650 660 670 680 690 700 710 720 730 740 750 760 770 780 790 800 810 820 830 840 850 860 870 880 890 900 910 920 930 940 950 960 970 980 990 1000 1010 1020 1030 1040 1050 1060 1070 1080 1090 1100 1110 1120 1130 1140 1150 1160 1170 1180 1190 1200 1210 1220 1230 1240 1250 1260 1270 1280 1290 1300 1310 1320 1330 1340 1350 1360 1370 1380 1390 1400 1410 1420 1430 1440 1450 1460 1470 1480 1490 1500 1510 1520 1530 1540 1550 1560 1570 1580 1590 1600 1610 1620 1630 1640 1650 1660 1670 1680 1690 1700 1710 1720 1730 1740 1750 1760 1770 1780 1790 1800 1810 1820 1830 1840 1850 1860 1870 1880 1890 1900 1910 1920 1930 1940 1950 1960 1970 1980 1990 2000 2010 2020 2030 2040 2050 2060 2070 2080 2090 2100 2110 2120 2130 2140 2150 2160 2170 2180 2190 2200 2210 2220 2230 2240 2250 2260 2270 2280 2290 2300 2310 2320 2330 2340 2350 2360 2370 2380 2390 2400 2410 2420 2430 2440 2450 2460 2470 2480 2490 2500 2510 2520 2530 2540 2550 2560 2570 2580 2590 2600 2610 2620 2630 2640 2650 2660 2670 2680 2690 2700 2710 2720 2730 2740 2750 2760 2770 2780 2790 2800 2810 2820 2830 2840 2850 2860 2870 2880 2890 2900 2910 2920 2930 2940 2950 2960 2970 2980 2990 3000 3010 3020 3030 3040 3050 3060 3070 3080 3090 3100 3110 3120 3130 3140 3150 3160 3170 3180 3190 3200 3210 3220 3230 3240 3250 3260 3270 3280 3290 3300 3310 3320 3330 3340 3350 3360 3370 3380 3390 3400 3410 3420 3430 3440 3450 3460 3470 3480 3490 3500 3510 3520 3530 3540 3550 3560 3570 3580 3590 3600 3610 3620 3630">MGPGEALLAGLLVMVLAVALLSNALVLLCCAYSAELRTRASGVLLVNLSLGHLLLAALDMPFTLLGVMRGRTPSAPGACQVIGFLDTFLASNAALSVAALSADQWLAVGFPLRYAGRLRPRYAGLLLGCAWGQSLAFSGAALGCSWLGYSSAFASCSLRLPPEPERPRFAAFTATLHAVGFVLPLAVLCLTSLQVHRVARSHCQRMDTVTMKALALLADLHPSVRQRCLIQQKRRRHRATRKIGIAIATFLICFAPYVMTRLAELVPFVTVNAQWGILSKCLTYSKAVADPFTYSLLCRPFRQVLAGMVHRLLKRTPRPASTHDSSLDVAGMVHQLLKRTPHPASTHNGSVDTENDSCLQQTH</text>
<text class="s" y="261.9" x="10 20 30 40 50 60 70 80 90 100 110 120 130 140 150 160 170 180 190 200 210 220 230 240 250 260 270 280 290 300 310 320 330 340 350 360 370 380 390 400 410 420 430 440 450 460 470 480 490 500 510 520 530 540 550 560 570 580 590 600 610 620 630 640 650 660 670 680 690 700 710 720 730 740 750 760 770 780 790 800 810 820 830 840 850 860 870 880 890 900 910 920 930 940 950 960 970 980 990 1000 1010 1020 1030 1040 1050 1060 1070 1080 1090 1100 1110 1120 1130 1140 1150 1160 1170 1180 1190 1200 1210 1220 1230 1240 1250 1260 1270 1280 1290 1300 1310 1320 1330 1340 1350 1360 1370 1380 1390 1400 1410 1420 1430 1440 1450 1460 1470 1480 1490 1500 1510 1520 1530 1540 1550 1560 1570 1580 1590 1600 1610 1620 1630 1640 1650 1660 1670 1680 1690 1700 1710 1720 1730 1740 1750 1760 1770 1780 1790 1800 1810 1820 1830 1840 1850 1860 1870 1880 1890 1900 1910 1920 1930 1940 1950 1960 1970 1980 1990 2000 2010 2020 2030 2040 2050 2060 2070 2080 2090 2100 2110 2120 2130 2140 2150 2160 2170 2180 2190 2200 2210 2220 2230 2240 2250 2260 2270 2280 2290 2300 2310 2320 2330 2340 2350 2360 2370 2380 2390 2400 2410 2420 2430 2440 2450 2460 2470 2480 2490 2500 2510 2520 2530 2540 2550 2560 2570 2580 2590 2600 2610 2620 2630 2640 2650 2660 2670 2680 2690 2700 2710 2720 2730 2740 2750 2760 2770 2780 2790 2800 2810 2820 2830 2840 2850 2860 2870 2880 2890 2900 2910 2920 2930 2940 2950 2960 2970 2980 2990 3000 3010 3020 3030 3040 3050 3060 3070 3080 3090 3100 3110 3120 3130 3140 3150 3160 3170 3180 3190 3200 3210 3220 3230 3240 3250 3260 3270 3280 3290 3300 3310 3320 3330 3340 3350 3360 3370 3380 3390 3400 3410 3420 3430 3440 3450 3460 3470 3480 3490 3500 3510 3520 3530 3540 3550 3560 3570 3580 3590 3600 3610 3620 3630">MGPGEALLAGLLVMVLAVALLSNALVLLCCAYSAELRTRASGVLLVNLSLGHLLLAALDMPFTLLGVMRGRTPSAPGACQVIGFLDTFLASNAALSVAALSADQWLAVGFPLRYAGRLRPRYAGLLLGCAWGQSLAFSGAALGCSWLGYSSAFASCSLRLPPEPERPRFAAFTATLHAVGFVLPLAVLCLTSLQVHRVARRHCQRMDTVTMKALALLADLHPSVRQRCLIQQKRRRHRATRKIGIAIVTFLICFAPYVMTRLAELVPFVTVNAQWGILSKCLTYSKAVADPFTYSLLRRPFRQVLAGMVHRLLKRTPRPASTHDSSLDVAGMVHQLLKRTPRPASTHNGSVDTENDSCLQQTH</text>
<text class="s" y="276.3" x="10 20 30 40 50 60 70 80 90 100 110 120 130 140 150 160 170 180 190 200 210 220 230 240 250 260 270 280 290 300 310 320 330 340 350 360 370 380 390 400 410 420 430 440 450 460 470 480 490 500 510 520 530 540 550 560 570 580 590 600 610 620 630 640 650 660 670 680 690 700 710 720 730 740 750 760 770 780 790 800 810 820 830 840 850 860 870 880 890 900 910 920 930 940 950 960 970 980 990 1000 1010 1020 1030 1040 1050 1060 1070 1080 1090 1100 1110 1120 1130 1140 1150 1160 1170 1180 1190 1200 1210 1220 1230 1240 1250 1260 1270 1280 1290 1300 1310 1320 1330 1340 1350 1360 1370 1380 1390 1400 1410 1420 1430 1440 1450 1460 1470 1480 1490 1500 1510 1520 1530 1540 1550 1560 1570 1580 1590 1600 1610 1620 1630 1640 1650 1660 1670 1680 1690 1700 1710 1720 1730 1740 1750 1760 1770 1780 1790 1800 1810 1820 1830 1840 1850 1860 1870 1880 1890 1900 1910 1920 1930 1940 1950 1960 1970 1980 1990 2000 2010 2020 2030 2040 2050 2060 2070 2080 2090 2100 2110 2120 2130 2140 2150 2160 2170 2180 2190 2200 2210 2220 2230 2240 2250 2260 2270 2280 2290 2300 2310 2320 2330 2340 2350 2360 2370 2380 2390 2400 2410 2420 2430 2440 2450 2460 2470 2480 2490 2500 2510 2520 2530 2540 2550 2560 2570 2580 2590 2600 2610 2620 2630 2640 2650 2660 2670 2680 2690 2700 2710 2720 2730 2740 2750 2760 2770 2780 2790 2800 2810 2820 2830 2840 2850 2860 2870 2880 2890 2900 2910 2920 2930 2940 2950 2960 2970 2980 2990 3000 3010 3020 3030 3040 3050 3060 3070 3080 3090 3100 3110 3120 3130 3140 3150 3160 3170 3180 3190 3200 3210 3220 3230 3240 3250 3260 3270 3280 3290 3300 3310 3320 3330 3340 3350 3360 3370 3380 3390 3400 3410 3420 3430 3440 3450 3460 3470 3480 3490 3500 3510 3520 3530 3540 3550 3560 3570 3580 3590 3600 3610 3620 3630">MGPGEALLAGLLVMVLAVALLSNALVLLCCAYSAELRTRASGVLLVNLSLGHLLLAALDMPFTLLGVMRGRTPSAPGACQVIGFLDTFLASNAALSVAALSADQWLAVGFPLRYAGRLRPRYAGLLLGCAWGQSLAFSGAALGCSWLGYSRAFASCSLRLPPEPERPRFAAFTATLHAVGFVLPLAVLCLTSLQVHRVARRHCQRMDTVTMKALALLADLHPSVRQRCLIQQKRRRHRATRKIGIAIATFLICFAPYVMTRLAELVPFVTVNAQWGILSKCLTYSKAVADPFTYSLLRRPFRQVLAGMVHRLLKRTPRPASTHDSSLDVAGMVHQLLKRTPRPASTHNGSVDTENDSCLQQTH</text>
</g>
<g id="ticks">
<path d="M100 280v3.5M200 280v3.5M300 280v3.5M400 280v3.5M500 280v3.5M600 280v3.5M700 280v3.5M800 280v3.5M900 280v3.5M1000 280v3.5M1100 280v3.5M1200 280v3.5M1300 280v3.5M1400 280v3.5M1500 280v3.5M1600 280v3.5M1700 280v3.5M1800 280v3.5M1900 280v3.5M2000 280v3.5M2100 280v3.5M2200 280v3.5M2300 280v3.5M2400 280v3.5M2500 280v3.5M2600 280v3.5M2700 280v3.5M2800 280v3.5M2900 280v3.5M3000 280v3.5M3100 280v3.5M3200 280v3.5M3300 280v3.5M3400 280v3.5M3500 280v3.5M3600 280v3.5" fill="none" stroke="#333" stroke-width="0.8"/>
<text class="tk" x="100" y="294.6">10</text><text class="tk" x="200" y="294.6">20</text><text class="tk" x="300" y="294.6">30</text><text class="tk" x="400" y="294.6">40</text><text class="tk" x="500" y="294.6">50</text><text class="tk" x="600" y="294.6">60</text><text class="tk" x="700" y="294.6">70</text><text class="tk" x="800" y="294.6">80</text><text class="tk" x="900" y="294.6">90</text><text class="tk" x="1000" y="294.6">100</text><text class="tk" x="1100" y="294.6">110</text><text class="tk" x="1200" y="294.6">120</text><text class="tk" x="1300" y="294.6">130</text><text class="tk" x="1400" y="294.6">140</text><text class="tk" x="1500" y="294.6">150</text><text class="tk" x="1600" y="294.6">160</text><text class="tk" x="1700" y="294.6">170</text><text class="tk" x="1800" y="294.6">180</text><text class="tk" x="1900" y="294.6">190</text><text class="tk" x="2000" y="294.6">200</text><text class="tk" x="2100" y="294.6">210</text><text class="tk" x="2200" y="294.6">220</text><text class="tk" x="2300" y="294.6">230</text><text class="tk" x="2400" y="294.6">240</text><text class="tk" x="2500" y="294.6">250</text><text class="tk" x="2600" y="294.6">260</text><text class="tk" x="2700" y="294.6">270</text><text class="tk" x="2800" y="294.6">280</text><text class="tk" x="2900" y="294.6">290</text><text class="tk" x="3000" y="294.6">300</text><text class="tk" x="3100" y="294.6">310</text><text class="tk" x="3200" y="294.6">320</text><text class="tk" x="3300" y="294.6">330</text><text class="tk" x="3400" y="294.6">340</text><text class="tk" x="3500" y="294.6">350</text><text class="tk" x="3600" y="294.6">360</text>
</g>
<g id="consensus">
<path class="bar" d="M5 302.3h30V331h-30zM45 302.3h1460V331h-1460zM1515 302.3h150V331h-150zM1675 302.3h330V331h-330zM2015 302.3h360V331h-360zM2555 302.3h10V331h-10zM2735 302.3h10V331h-10zM2755 302.3h10V331h-10zM2875 302.3h10V331h-10zM2905 302.3h10V331h-10zM3085 302.3h10V331h-10zM3115 302.3h10V331h-10zM3185 302.3h10V331h-10zM3285 302.3h10V331h-10zM3425 302.3h10V331h-10zM3485 302.3h10V331h-10zM3535 302.3h10V331h-10z"/>
<path class="bar" fill-opacity="0.941" d="M35 304h10V331h-10zM1505 304h10V331h-10zM2375 304h100V331h-100zM2485 304h70V331h-70zM2565 304h170V331h-170zM2745 304h10V331h-10zM2765 304h110V331h-110zM2885 304h20V331h-20zM2915 304h60V331h-60zM2985 304h100V331h-100zM3095 304h20V331h-20zM3125 304h60V331h-60zM3195 304h90V331h-90zM3305 304h110V331h-110zM3435 304h50V331h-50zM3495 304h40V331h-40zM3545 304h90V331h-90z"/>
<path class="bar" fill-opacity="0.882" d="M1665 305.7h10V331h-10zM2975 305.7h10V331h-10z"/>
<path class="bar" fill-opacity="0.824" d="M2475 307.4h10V331h-10zM3295 307.4h10V331h-10z"/>
<path class="bar" fill-opacity="0.647" d="M2005 312.4h10V331h-10zM3415 312.4h10V331h-10z"/>
<rect x="0" y="300" width="3640" height="32" fill="url(#sep)"/>
<text class="cs" y="343.3" x="10 20 30 40 50 60 70 80 90 100 110 120 130 140 150 160 170 180 190 200 210 220 230 240 250 260 270 280 290 300 310 320 330 340 350 360 370 380 390 400 410 420 430 440 450 460 470 480 490 500 510 520 530 540 550 560 570 580 590 600 610 620 630 640 650 660 670 680 690 700 710 720 730 740 750 760 770 780 790 800 810 820 830 840 850 860 870 880 890 900 910 920 930 940 950 960 970 980 990 1000 1010 1020 1030 1040 1050 1060 1070 1080 1090 1100 1110 1120 1130 1140 1150 1160 1170 1180 1190 1200 1210 1220 1230 1240 1250 1260 1270 1280 1290 1300 1310 1320 1330 1340 1350 1360 1370 1380 1390 1400 1410 1420 1430 1440 1450 1460 1470 1480 1490 1500 1510 1520 1530 1540 1550 1560 1570 1580 1590 1600 1610 1620 1630 1640 1650 1660 1670 1680 1690 1700 1710 1720 1730 1740 1750 1760 1770 1780 1790 1800 1810 1820 1830 1840 1850 1860 1870 1880 1890 1900 1910 1920 1930 1940 1950 1960 1970 1980 1990 2000 2010 2020 2030 2040 2050 2060 2070 2080 2090 2100 2110 2120 2130 2140 2150 2160 2170 2180 2190 2200 2210 2220 2230 2240 2250 2260 2270 2280 2290 2300 2310 2320 2330 2340 2350 2360 2370 2380 2390 2400 2410 2420 2430 2440 2450 2460 2470 2480 2490 2500 2510 2520 2530 2540 2550 2560 2570 2580 2590 2600 2610 2620 2630 2640 2650 2660 2670 2680 2690 2700 2710 2720 2730 2740 2750 2760 2770 2780 2790 2800 2810 2820 2830 2840 2850 2860 2870 2880 2890 2900 2910 2920 2930 2940 2950 2960 2970 2980 2990 3000 3010 3020 3030 3040 3050 3060 3070 3080 3090 3100 3110 3120 3130 3140 3150 3160 3170 3180 3190 3200 3210 3220 3230 3240 3250 3260 3270 3280 3290 3300 3310 3320 3330 3340 3350 3360 3370 3380 3390 3400 3410 3420 3430 3440 3450 3460 3470 3480 3490 3500 3510 3520 3530 3540 3550 3560 3570 3580 3590 3600 3610 3620 3630">MGPGEALLAGLLVMVLAVALLSNALVLLCCAYSAELRTRASGVLLVNLSLGHLLLAALDMPFTLLGVMRGRTPSAPGACQVIGFLDTFLASNAALSVAALSADQWLAVGFPLRYAGRLRPRYAGLLLGCAWGQSLAFSGAALGCSWLGYSSAFASCSLRLPPEPERPRFAAFTATLHAVGFVLPLAVLCLTSLQVHRVARRHCQRMDTVTMKALALLADLHPSVRQRCLIQQKRRRHRATRKIGIAIATFLICFAPYVMTRLAELVPFVTVNAQWGILSKCLTYSKAVADPFTYSLLRRPFRQVLAGMVHRLLKRTPRPASTHDSSLDVAGMVHQLLKRTPRPASTHNGSVDTENDSCLQQTH</text>
</g>
</g>
<g id="lengths">
<text class="len" x="3833.5" y="46.3">363</text>
<text class="len" x="3833.5" y="60.7">363</text>
<text class="len" x="3833.5" y="75">363</text>
<text class="len" x="3833.5" y="89.4">363</text>
<text class="len" x="3833.5" y="103.8">363</text>
<text class="len" x="3833.5" y="118.2">323</text>
<text class="len" x="3833.5" y="132.5">363</text>
<text class="len" x="3833.5" y="146.9">363</text>
<text class="len" x="3833.5" y="161.3">363</text>
<text class="len" x="3833.5" y="175.7">363</text>
<text class="len" x="3833.5" y="190">363</text>
<text class="len" x="3833.5" y="204.4">363</text>
<text class="len" x="3833.5" y="218.8">363</text>
<text class="len" x="3833.5" y="233.2">363</text>
<text class="len" x="3833.5" y="247.5">363</text>
<text class="len" x="3833.5" y="261.9">363</text>
<text class="len" x="3833.5" y="276.3">363</text>
</g>
</svg>
